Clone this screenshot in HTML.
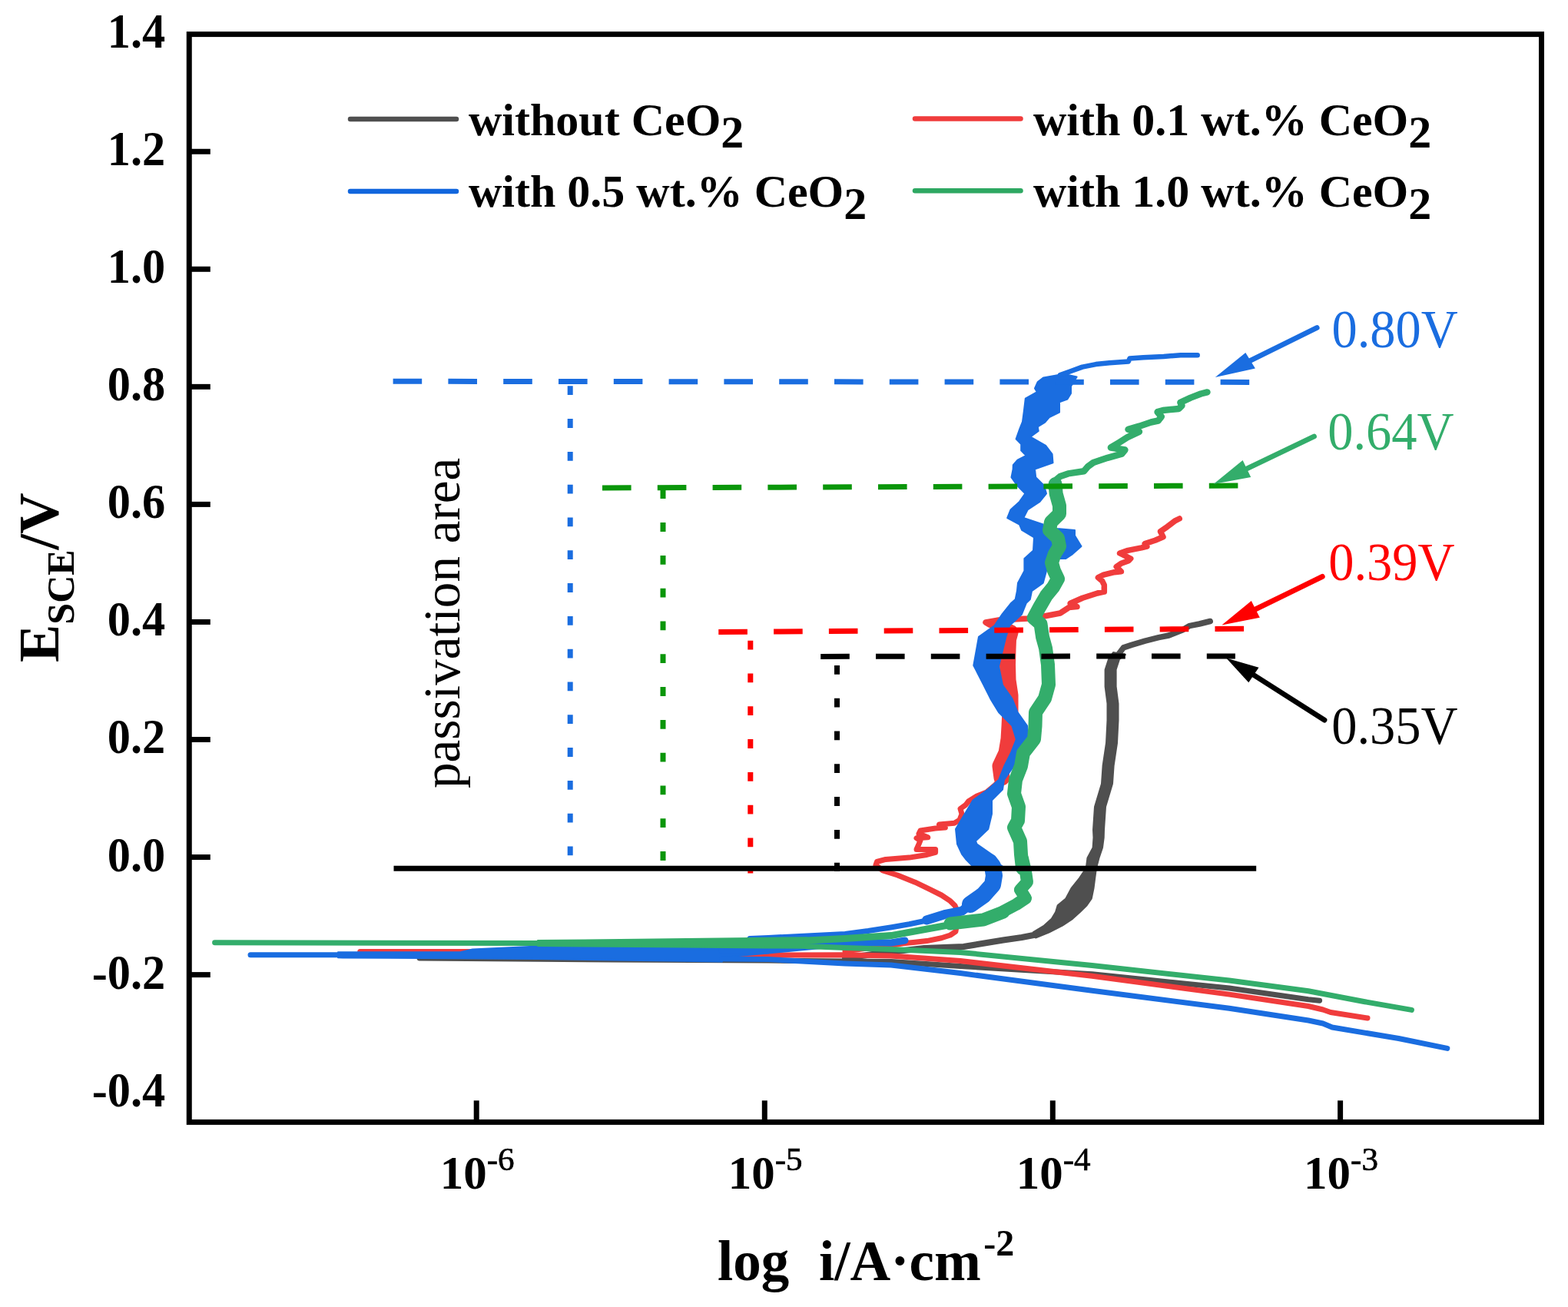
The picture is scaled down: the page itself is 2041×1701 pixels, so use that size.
<!DOCTYPE html><html><head><meta charset="utf-8"><title>Polarization curves</title><style>
html,body{margin:0;padding:0;background:#fff;}svg{display:block}
.b{font-family:"Liberation Serif","Times New Roman",serif;font-weight:bold}
.r{font-family:"Liberation Serif","Times New Roman",serif;font-weight:normal}
</style></head><body>
<svg width="2041" height="1701" viewBox="0 0 2041 1701">
<rect x="0" y="0" width="2041" height="1701" fill="#fff"/>
<polyline points="546.0,1247.0 800.0,1249.0 1000.0,1250.0 1100.0,1251.0 1160.0,1251.5 1250.0,1257.5 1421.5,1267.7 1600.0,1286.0 1703.0,1300.7 1717.6,1302.2" fill="none" stroke="#4f4f4f" stroke-width="7" stroke-linejoin="round" stroke-linecap="round"/>
<polyline points="1100.0,1247.0 1150.0,1240.0 1203.0,1234.0 1254.4,1232.0 1305.8,1223.5 1330.0,1220.0 1348.0,1216.5" fill="none" stroke="#4f4f4f" stroke-width="8" stroke-linejoin="round" stroke-linecap="round"/>
<polygon points="1449.0,849.0 1443.0,858.0 1438.6,871.5 1438.6,893.5 1441.5,915.6 1441.5,937.6 1440.0,967.0 1435.6,996.5 1434.0,1020.0 1431.0,1030.0 1425.0,1050.0 1423.0,1080.0 1423.5,1090.0 1422.6,1103.2 1415.5,1116.5 1413.8,1129.7 1405.0,1142.9 1394.4,1156.1 1387.3,1169.4 1376.7,1178.2 1374.1,1187.0 1368.8,1195.8 1359.1,1204.6 1345.0,1213.0 1348.0,1220.5 1365.3,1213.5 1382.9,1204.6 1396.1,1195.8 1405.8,1187.0 1414.7,1178.2 1420.8,1169.4 1423.5,1156.1 1425.2,1142.9 1427.0,1129.7 1430.5,1116.5 1435.0,1103.2 1436.7,1090.0 1437.0,1080.0 1439.0,1050.0 1445.0,1030.0 1448.0,1020.0 1449.6,996.5 1454.0,967.0 1455.5,937.6 1455.5,915.6 1452.6,893.5 1452.6,871.5 1457.0,858.0 1465.0,852.0" fill="#4f4f4f" stroke="#4f4f4f" stroke-width="2" stroke-linejoin="round"/>
<polyline points="1446.0,866.0 1449.1,860.5 1457.0,850.0 1462.3,842.9 1472.9,839.4 1490.5,834.1 1508.2,829.7 1521.4,827.0 1530.2,823.5 1539.0,820.0 1547.9,814.7 1561.1,812.0 1575.2,808.5" fill="none" stroke="#4f4f4f" stroke-width="7.5" stroke-linejoin="round" stroke-linecap="round"/>
<polyline points="468.7,1238.5 615.0,1238.5 800.0,1240.0 1000.0,1243.0 1100.0,1242.7 1160.0,1244.0 1250.0,1250.6 1421.5,1270.3 1600.0,1294.1 1703.0,1309.5 1722.0,1314.0 1732.0,1317.5 1780.0,1325.0" fill="none" stroke="#f03c3c" stroke-width="7" stroke-linejoin="round" stroke-linecap="round"/>
<polyline points="1100.0,1238.0 1150.0,1231.0 1166.7,1229.2 1175.9,1227.7 1191.1,1226.2 1206.4,1224.6 1225.5,1220.8 1237.0,1217.0 1243.9,1212.4 1246.0,1200.0 1244.6,1182.6 1243.1,1178.8 1237.0,1172.7 1225.5,1165.0 1210.2,1157.4 1191.1,1148.2 1168.2,1139.0 1149.1,1132.9 1139.9,1126.0 1141.5,1121.5 1152.9,1118.4 1183.5,1116.1 1206.4,1112.5 1217.6,1109.4 1217.6,1105.5 1193.0,1105.5 1196.0,1098.6 1198.0,1093.7 1193.0,1090.8 1207.8,1089.8 1196.0,1085.0 1198.0,1081.0 1217.6,1078.0 1230.4,1077.0 1222.5,1073.0 1242.2,1071.2 1249.0,1067.3 1252.0,1059.4 1250.0,1052.5 1256.9,1047.6 1260.8,1042.7 1271.6,1035.9 1284.3,1031.0 1295.0,1022.0 1304.0,1012.0" fill="none" stroke="#f03c3c" stroke-width="7" stroke-linejoin="round" stroke-linecap="round"/>
<polyline points="1304.0,1012.0 1302.0,997.0 1310.0,980.0 1313.0,962.0 1314.0,945.0 1315.0,925.0 1315.0,905.0 1312.0,885.0 1311.5,865.0 1312.0,845.0 1312.5,832.0 1315.0,823.0" fill="none" stroke="#f03c3c" stroke-width="21" stroke-linejoin="round" stroke-linecap="round"/>
<polyline points="1316.0,820.0 1300.0,816.0 1288.0,813.0 1283.0,810.0 1300.0,807.0 1338.0,805.0 1352.5,803.3 1380.0,798.0 1391.5,790.5 1402.0,789.6 1393.2,785.2 1409.1,778.2 1428.5,772.0 1437.3,770.2 1437.3,761.4 1434.7,756.1 1429.4,751.7 1436.4,748.2 1450.5,744.7 1459.4,743.8 1453.2,737.6 1459.4,733.2 1469.1,729.7 1471.7,727.0 1461.1,721.7 1457.6,720.0 1468.2,716.4 1485.8,712.9 1492.9,711.1 1490.2,707.6 1503.5,703.2 1514.0,698.8 1512.3,695.3 1510.5,691.7 1519.3,685.6 1529.9,677.6 1535.2,675.0" fill="none" stroke="#f03c3c" stroke-width="7.5" stroke-linejoin="round" stroke-linecap="round"/>
<polyline points="326.0,1242.8 446.0,1242.8" fill="none" stroke="#1a6de0" stroke-width="7" stroke-linejoin="round" stroke-linecap="round"/>
<polygon points="440.0,1239.3 600.0,1239.0 615.0,1235.5 700.0,1231.6 940.0,1233.2 1000.0,1233.6 1000.0,1240.6 940.0,1246.0 940.0,1251.4 700.0,1248.0 600.0,1247.2 446.0,1246.4 440.0,1246.2" fill="#1a6de0" stroke="#1a6de0" stroke-width="2" stroke-linejoin="round"/>
<polyline points="940.0,1237.0 1000.0,1237.0 1100.0,1227.5 1130.0,1226.5 1160.0,1227.0 1178.0,1224.0" fill="none" stroke="#1a6de0" stroke-width="9" stroke-linejoin="round" stroke-linecap="round"/>
<polyline points="940.0,1248.0 1000.0,1248.6 1100.0,1254.0 1160.0,1256.0 1250.0,1266.5 1421.5,1289.2 1600.0,1312.3 1703.0,1328.0 1722.0,1332.0 1734.0,1337.0 1820.6,1351.5 1883.8,1364.4" fill="none" stroke="#1a6de0" stroke-width="7" stroke-linejoin="round" stroke-linecap="round"/>
<polyline points="976.0,1221.5 1000.0,1220.5 1100.0,1215.5 1130.0,1211.5 1160.6,1206.7 1183.5,1202.7 1211.0,1197.0" fill="none" stroke="#1a6de0" stroke-width="7" stroke-linejoin="round" stroke-linecap="round"/>
<polyline points="1206.0,1197.5 1229.3,1190.2 1252.3,1185.6 1263.0,1177.0" fill="none" stroke="#1a6de0" stroke-width="12" stroke-linejoin="round" stroke-linecap="round"/>
<polyline points="1263.0,1177.0 1280.0,1165.0 1292.0,1151.5 1294.0,1139.5 1292.0,1127.4 1288.0,1122.0" fill="none" stroke="#1a6de0" stroke-width="22" stroke-linejoin="round" stroke-linecap="round"/>
<polygon points="1358.3,491.4 1350.8,497.0 1347.0,505.5 1349.9,510.2 1334.8,518.7 1332.9,534.7 1331.0,548.8 1327.3,558.2 1322.6,571.4 1329.2,578.0 1329.2,586.4 1335.7,593.0 1324.5,598.6 1318.8,605.2 1318.6,610.6 1316.5,621.2 1323.9,631.7 1334.4,642.3 1327.0,652.9 1315.4,663.5 1311.2,674.0 1327.0,682.5 1330.2,690.0 1346.0,699.5 1345.0,716.4 1333.4,727.0 1333.4,742.9 1325.0,758.7 1323.9,769.3 1321.7,780.0 1316.3,784.7 1304.5,799.4 1294.7,814.0 1274.0,828.8 1267.3,866.0 1280.5,891.7 1289.3,909.4 1300.0,927.0 1317.5,944.6 1322.8,962.3 1315.8,980.0 1307.0,997.5 1300.0,1015.0 1285.8,1027.5 1266.4,1041.6 1255.8,1059.3 1245.2,1077.0 1244.0,1079.0 1246.0,1098.6 1252.3,1112.0 1256.9,1118.0 1268.6,1130.0 1308.7,1130.0 1291.0,1118.0 1291.0,1112.0 1271.6,1098.6 1270.0,1094.6 1286.3,1079.0 1291.0,1059.3 1291.0,1041.6 1305.0,1027.5 1307.0,1015.0 1319.3,997.5 1326.4,980.0 1337.0,962.3 1337.0,944.6 1324.6,927.0 1317.5,909.4 1305.0,891.7 1300.0,867.0 1309.4,828.8 1314.3,814.0 1330.0,799.4 1335.9,784.7 1340.8,780.0 1343.0,769.3 1357.7,758.7 1362.0,742.9 1363.0,727.0 1387.4,727.0 1395.0,722.0 1407.5,711.0 1399.0,697.0 1399.0,690.0 1376.0,688.0 1357.7,685.0 1357.7,682.5 1332.3,674.0 1337.6,663.5 1353.5,652.9 1362.0,642.3 1358.8,631.7 1348.2,621.2 1347.0,610.6 1370.5,602.4 1369.6,591.0 1361.1,579.8 1341.4,568.5 1351.7,561.0 1350.8,555.4 1360.2,549.7 1365.8,543.0 1379.0,536.5 1379.0,523.4 1389.4,519.6 1394.0,512.0 1394.0,502.7 1401.6,490.5 1384.7,486.7" fill="#1a6de0" stroke="#1a6de0" stroke-width="2" stroke-linejoin="round"/>
<polyline points="1380.0,488.0 1394.0,483.0 1408.8,477.6 1426.5,474.1 1444.1,472.3 1468.8,470.6 1470.5,466.6 1488.2,465.3 1514.6,464.0 1536.7,462.2 1558.7,462.2" fill="none" stroke="#1a6de0" stroke-width="6.5" stroke-linejoin="round" stroke-linecap="round"/>
<polyline points="279.6,1226.8 700.0,1227.5" fill="none" stroke="#33ad6b" stroke-width="7" stroke-linejoin="round" stroke-linecap="round"/>
<polygon points="700.0,1224.0 830.0,1222.8 1000.0,1220.8 1050.0,1220.2 1050.0,1233.8 1000.0,1233.4 830.0,1232.0 700.0,1231.0" fill="#33ad6b" stroke="#33ad6b" stroke-width="2" stroke-linejoin="round"/>
<polyline points="1050.0,1224.0 1100.0,1221.5 1160.0,1217.6 1237.0,1203.5" fill="none" stroke="#33ad6b" stroke-width="9" stroke-linejoin="round" stroke-linecap="round"/>
<polyline points="1237.0,1202.0 1280.0,1197.0 1306.0,1187.0" fill="none" stroke="#33ad6b" stroke-width="17" stroke-linejoin="round" stroke-linecap="round"/>
<polyline points="1306.0,1186.0 1323.0,1177.0 1335.0,1169.0 1328.0,1158.0 1337.0,1148.0 1335.0,1134.0 1331.0,1117.0" fill="none" stroke="#33ad6b" stroke-width="16" stroke-linejoin="round" stroke-linecap="round"/>
<polyline points="1050.0,1231.5 1100.0,1233.4 1160.0,1235.4 1250.0,1239.4 1421.5,1256.6 1600.0,1276.0 1703.0,1289.7 1776.5,1303.7 1837.4,1314.4" fill="none" stroke="#33ad6b" stroke-width="7" stroke-linejoin="round" stroke-linecap="round"/>
<polyline points="1331.0,1130.0 1329.0,1112.0 1328.0,1095.0 1320.0,1077.0 1325.0,1068.0 1326.0,1050.0 1320.0,1033.0 1322.0,1015.0 1329.0,997.0 1332.0,980.0 1346.0,962.0 1347.5,945.0 1348.0,927.0 1360.0,909.0 1365.0,891.0 1364.0,865.0 1361.0,843.5 1357.0,828.8 1354.5,812.0 1345.6,804.3 1353.5,789.6 1362.0,775.0 1371.0,764.0 1377.0,753.4 1372.0,742.9 1369.0,732.3 1372.5,721.7 1379.0,711.0 1377.0,700.5 1366.0,690.0 1368.0,679.4 1379.0,668.8 1379.0,658.2 1374.6,642.3 1373.6,630.0" fill="none" stroke="#33ad6b" stroke-width="18" stroke-linejoin="round" stroke-linecap="round"/>
<polyline points="1368.0,634.0 1374.0,625.0 1380.0,620.0 1390.3,616.4 1410.9,613.3 1416.0,607.2 1423.2,602.0 1441.7,595.8 1460.3,590.7 1464.4,585.5 1445.9,582.5 1456.1,576.3 1467.5,569.1 1482.9,561.9 1468.5,558.8 1482.9,554.7 1498.3,549.5 1507.6,547.5 1511.7,542.3 1506.6,536.2 1513.8,534.1 1534.3,532.0 1538.4,527.9 1536.4,523.8 1549.8,517.6 1563.1,512.5 1571.4,510.4" fill="none" stroke="#33ad6b" stroke-width="8.5" stroke-linejoin="round" stroke-linecap="round"/>
<line x1="511.6" y1="496.3" x2="1626.4" y2="497.4" stroke="#1a6de0" stroke-width="7" stroke-dasharray="37.6 34.2"/>
<line x1="784" y1="635.0" x2="1612.4" y2="632.0" stroke="#0a960a" stroke-width="7" stroke-dasharray="37.6 34.2"/>
<line x1="935.3" y1="822.4" x2="1619.8" y2="818.2" stroke="#ff0000" stroke-width="7" stroke-dasharray="37.6 34.2"/>
<line x1="1068.2" y1="854.4" x2="1607.9" y2="853.9" stroke="#000" stroke-width="7" stroke-dasharray="37.6 34.2"/>
<line x1="742.2" y1="502.3" x2="742.2" y2="1114" stroke="#1a6de0" stroke-width="7" stroke-dasharray="11.8 31"/>
<line x1="863" y1="637.3" x2="863" y2="1120" stroke="#0a960a" stroke-width="7" stroke-dasharray="11.8 31"/>
<line x1="976.8" y1="833.7" x2="976.8" y2="1136.5" stroke="#ff0000" stroke-width="7" stroke-dasharray="11.8 31"/>
<line x1="1089.5" y1="865.9" x2="1089.5" y2="1134" stroke="#000" stroke-width="7" stroke-dasharray="11.8 31"/>
<line x1="512.5" y1="1130.3" x2="1635.2" y2="1130.3" stroke="#000" stroke-width="7"/>
<line x1="1714.2" y1="426.5" x2="1627.6" y2="469.2" stroke="#1a6de0" stroke-width="6.8" stroke-linecap="round"/><polygon points="1581.8,491.1 1621.3,459 1633.9,479.4" fill="#1a6de0"/>
<line x1="1710.5" y1="568" x2="1622.9" y2="610.0" stroke="#33ad6b" stroke-width="6.8" stroke-linecap="round"/><polygon points="1579.6,630 1617.6,599 1628.2,620.9" fill="#33ad6b"/>
<line x1="1721.3" y1="750.4" x2="1634.3" y2="792.9" stroke="#ff0000" stroke-width="6.8" stroke-linecap="round"/><polygon points="1590.4,813.5 1628.8,782.1 1639.8,803.7" fill="#ff0000"/>
<line x1="1724" y1="937.1" x2="1631.9" y2="878.5" stroke="#000" stroke-width="6.8" stroke-linecap="round"/><polygon points="1596.2,856.5 1638.5,868.8 1625.3,888.2" fill="#000"/>
<text class="r" font-size="69" fill="#1a6de0" transform="translate(1733.5,452) scale(0.963,1)">0.80V</text>
<text class="r" font-size="69" fill="#33ad6b" transform="translate(1728.2,584.5) scale(0.963,1)">0.64V</text>
<text class="r" font-size="69" fill="#ff0000" transform="translate(1729.2,754.5) scale(0.963,1)">0.39V</text>
<text class="r" font-size="69" fill="#000" transform="translate(1733.2,968) scale(0.963,1)">0.35V</text>
<text class="r" font-size="68" fill="#000" transform="translate(598,1026) rotate(-90) scale(0.987,1)">passivation area</text>
<g stroke="#000" stroke-width="7" fill="none">
<rect x="246.25" y="44.6" width="1760.25" height="1415.8" stroke-linejoin="miter"/>
<line x1="246" y1="197.25" x2="273.8" y2="197.25"/>
<line x1="246" y1="350.30" x2="273.8" y2="350.30"/>
<line x1="246" y1="503.35" x2="273.8" y2="503.35"/>
<line x1="246" y1="656.40" x2="273.8" y2="656.40"/>
<line x1="246" y1="809.45" x2="273.8" y2="809.45"/>
<line x1="246" y1="962.50" x2="273.8" y2="962.50"/>
<line x1="246" y1="1115.55" x2="273.8" y2="1115.55"/>
<line x1="246" y1="1268.60" x2="273.8" y2="1268.60"/>
<line x1="620.2" y1="1460.5" x2="620.2" y2="1432.3"/>
<line x1="995.3" y1="1460.5" x2="995.3" y2="1432.3"/>
<line x1="1370.3" y1="1460.5" x2="1370.3" y2="1432.3"/>
<line x1="1744.6" y1="1460.5" x2="1744.6" y2="1432.3"/>
</g>
<text class="b" font-size="61" text-anchor="end" transform="translate(215.3,62.1) scale(0.99,1.025)">1.4</text>
<text class="b" font-size="61" text-anchor="end" transform="translate(215.3,215.2) scale(0.99,1.025)">1.2</text>
<text class="b" font-size="61" text-anchor="end" transform="translate(215.3,368.2) scale(0.99,1.025)">1.0</text>
<text class="b" font-size="61" text-anchor="end" transform="translate(215.3,521.2) scale(0.99,1.025)">0.8</text>
<text class="b" font-size="61" text-anchor="end" transform="translate(215.3,674.3) scale(0.99,1.025)">0.6</text>
<text class="b" font-size="61" text-anchor="end" transform="translate(215.3,827.4) scale(0.99,1.025)">0.4</text>
<text class="b" font-size="61" text-anchor="end" transform="translate(215.3,980.4) scale(0.99,1.025)">0.2</text>
<text class="b" font-size="61" text-anchor="end" transform="translate(215.3,1133.5) scale(0.99,1.025)">0.0</text>
<text class="b" font-size="61" text-anchor="end" transform="translate(215.3,1286.5) scale(0.99,1.025)">-0.2</text>
<text class="b" font-size="61" text-anchor="end" transform="translate(215.3,1439.6) scale(0.99,1.025)">-0.4</text>
<text class="b" x="572.7" y="1547" font-size="61">10<tspan class="r" font-size="43" dy="-24" stroke="#000" stroke-width="0.7">-6</tspan></text>
<text class="b" x="947.8" y="1547" font-size="61">10<tspan class="r" font-size="43" dy="-24" stroke="#000" stroke-width="0.7">-5</tspan></text>
<text class="b" x="1322.8" y="1547" font-size="61">10<tspan class="r" font-size="43" dy="-24" stroke="#000" stroke-width="0.7">-4</tspan></text>
<text class="b" x="1697.1" y="1547" font-size="61">10<tspan class="r" font-size="43" dy="-24" stroke="#000" stroke-width="0.7">-3</tspan></text>
<text class="b" x="934" y="1666" font-size="73">log&#160;&#160;<tspan dx="2.2">i/A·cm</tspan><tspan font-size="48" dx="3.5" dy="-32">-2</tspan></text>
<text class="b" font-size="74" transform="translate(75.5,862) rotate(-90)">E<tspan font-size="50" dy="20">SCE</tspan><tspan dy="-20">/V</tspan></text>
<g stroke-width="6.5" stroke-linecap="round">
<line x1="456" y1="155" x2="594" y2="155" stroke="#4f4f4f"/>
<line x1="456" y1="249" x2="594" y2="249" stroke="#1166dd"/>
<line x1="1191" y1="154.6" x2="1328.5" y2="154.6" stroke="#f03c3c"/>
<line x1="1191" y1="248.2" x2="1328.5" y2="248.2" stroke="#2ea862"/>
</g>
<text class="b" x="610" y="176" font-size="60">without CeO<tspan dy="15.7">2</tspan></text>
<text class="b" x="610" y="269" font-size="60">with 0.5 wt.% CeO<tspan dy="15.7">2</tspan></text>
<text class="b" x="1345" y="176" font-size="60">with 0.1 wt.% CeO<tspan dy="15.7">2</tspan></text>
<text class="b" x="1345" y="269" font-size="60">with 1.0 wt.% CeO<tspan dy="15.7">2</tspan></text>
</svg></body></html>
